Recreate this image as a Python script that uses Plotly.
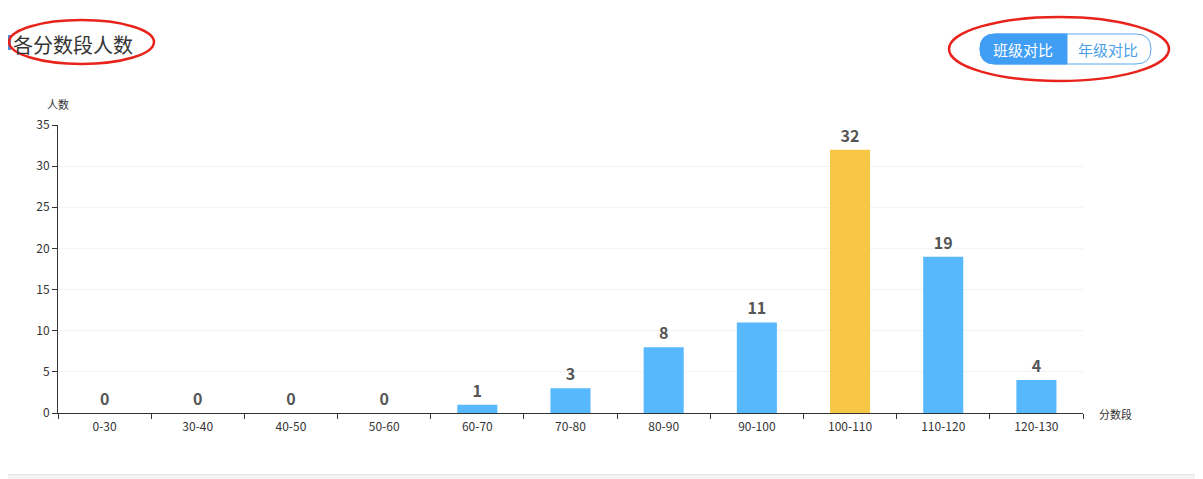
import plotly.graph_objects as go

categories = ["0-30", "30-40", "40-50", "50-60", "60-70", "70-80", "80-90", "90-100", "100-110", "110-120", "120-130"]
counts = [0, 0, 0, 0, 1, 3, 8, 11, 32, 19, 4]
highlight = "100-110"
y_ticks = [0, 5, 10, 15, 20, 25, 30, 35]

W, H = 1203, 479
OFF = 8  # page body margin
L, R, T, B = 58, 1083, 125, 413

def px(x):
    return (x - L) / (R - L)

def py(y):
    return (B - y) / (B - T)

BLUE = "#58b8fd"
YELLOW = "#f7c644"
colors = [YELLOW if c == highlight else BLUE for c in categories]
FONT = "Noto Sans CJK SC, Microsoft YaHei, sans-serif"

fig = go.Figure()
fig.add_trace(go.Bar(
    x=categories, y=counts, marker=dict(color=colors, line=dict(width=0)),
    width=0.43, text=[str(v) for v in counts], textposition="outside",
    textfont=dict(size=16, color="#555555", family=FONT),
    texttemplate="<b>%{text}</b>", cliponaxis=False, hoverinfo="x+y",
))

shapes = []
shapes.append(dict(type="rect", xref="paper", yref="paper", x0=px(2.5), x1=px(1200.5), y0=py(474.5), y1=py(-10),
                   fillcolor="white", line=dict(color="#e6e6e6", width=1), layer="below"))
shapes.append(dict(type="rect", xref="paper", yref="paper", x0=px(8), x1=px(11), y0=py(50), y1=py(35),
                   fillcolor="#4a90e2", line=dict(width=0)))

def rounded_path(x0, y0, x1, y1, r, right=True):
    def P(x, y):
        return f"{px(x):.5f},{py(y):.5f}"
    p = f"M {P(x0 + r, y0)} "
    if right:
        p += f"L {P(x1 - r, y0)} Q {P(x1, y0)} {P(x1, y0 + r)} L {P(x1, y1 - r)} Q {P(x1, y1)} {P(x1 - r, y1)} "
    else:
        p += f"L {P(x1, y0)} L {P(x1, y1)} "
    p += f"L {P(x0 + r, y1)} Q {P(x0, y1)} {P(x0, y1 - r)} L {P(x0, y0 + r)} Q {P(x0, y0)} {P(x0 + r, y0)} Z"
    return p

shapes.append(dict(type="path", xref="paper", yref="paper", path=rounded_path(980, 34, 1151, 64, 15),
                   fillcolor="white", line=dict(color="#5aa9ee", width=1)))
shapes.append(dict(type="path", xref="paper", yref="paper", path=rounded_path(980, 34, 1067, 64, 15, right=False),
                   fillcolor="#409ef5", line=dict(color="#409ef5", width=1)))

shapes.append(dict(type="circle", xref="paper", yref="paper", x0=px(9), x1=px(154), y0=py(64), y1=py(20),
                   line=dict(color="#e8231c", width=2.5)))
shapes.append(dict(type="circle", xref="paper", yref="paper", x0=px(949), x1=px(1169), y0=py(81), y1=py(17),
                   line=dict(color="#e8231c", width=2.5)))

annotations = [
    dict(text="各分数段人数", xref="paper", yref="paper", x=px(11), y=py(44), xanchor="left", yanchor="middle",
         showarrow=False, font=dict(size=20, color="#333333", family=FONT)),
    dict(text="班级对比", xref="paper", yref="paper", x=px(1023), y=py(49), xanchor="center", yanchor="middle",
         showarrow=False, font=dict(size=15, color="white", family=FONT)),
    dict(text="年级对比", xref="paper", yref="paper", x=px(1108), y=py(49), xanchor="center", yanchor="middle",
         showarrow=False, font=dict(size=15, color="#4a9fe8", family=FONT)),
    dict(text="人数", xref="paper", yref="paper", x=px(58), y=py(104), xanchor="center", yanchor="middle",
         showarrow=False, font=dict(size=11, color="#333333", family=FONT)),
    dict(text="分数段", xref="paper", yref="paper", x=px(1097), y=py(414), xanchor="left", yanchor="middle",
         showarrow=False, font=dict(size=11, color="#333333", family=FONT)),
]

fig.update_layout(
    width=W - OFF, height=H - OFF,
    margin=dict(l=L - OFF, r=W - R, t=T - OFF, b=H - B, pad=0),
    paper_bgcolor="#f4f4f4", plot_bgcolor="rgba(0,0,0,0)",
    showlegend=False, bargap=0.57,
    shapes=shapes, annotations=annotations,
    font=dict(family=FONT, color="#333333"),
    xaxis=dict(type="category", categoryorder="array", categoryarray=categories,
               showline=True, linecolor="#333333", linewidth=1,
               ticks="outside", tickson="boundaries", ticklen=5, tickcolor="#333333",
               ticklabelstandoff=3,
               tickfont=dict(size=12, color="#333333"), showgrid=False, fixedrange=True),
    yaxis=dict(range=[0, 35], tickvals=y_ticks, showline=True, linecolor="#333333", linewidth=1,
               ticks="outside", ticklen=5, tickcolor="#333333",
               tickfont=dict(size=12, color="#333333"), showgrid=True, gridcolor="#f3f3f3",
               zeroline=False, fixedrange=True),
)

fig.write_html("out.html")
